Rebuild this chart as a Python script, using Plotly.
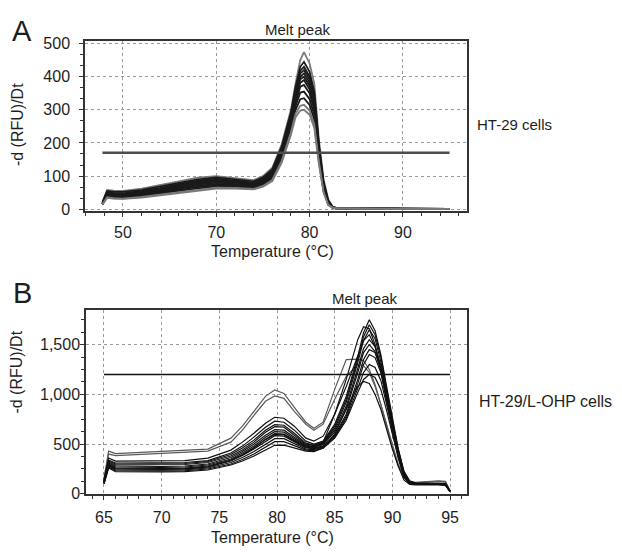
import plotly.graph_objects as go

# ---------------- Panel A data (HT-29 cells) ----------------
temp_a = [57.8, 58.3, 59, 60, 62, 64, 66, 68, 70, 72, 74, 75, 76, 77, 78, 78.5, 79, 79.4,
          80, 80.5, 81, 81.5, 82, 82.5, 83, 84, 86, 88, 90, 92, 95]
a_curve_01 = [22, 58, 56, 55, 62, 72, 84, 95, 100, 94, 88, 100, 125, 195, 300, 380, 450, 474, 440, 380, 210, 90, 30, 6, 3, 2, 2, 1, 1, 1, 1]
a_curve_02 = [20, 55, 52, 52, 58, 68, 80, 90, 96, 90, 84, 96, 120, 188, 292, 370, 430, 445, 415, 355, 195, 82, 26, 6, 3, 2, 2, 1, 1, 1, 1]
a_curve_03 = [18, 52, 49, 48, 55, 64, 76, 86, 92, 87, 80, 92, 115, 180, 285, 360, 418, 430, 400, 345, 190, 78, 24, 5, 3, 2, 1, 1, 1, 1, 1]
a_curve_04 = [18, 50, 47, 46, 52, 61, 73, 83, 89, 85, 78, 89, 112, 176, 280, 355, 410, 420, 392, 338, 185, 75, 22, 5, 3, 2, 1, 1, 1, 1, 1]
a_curve_05 = [16, 48, 45, 44, 50, 58, 70, 80, 86, 82, 76, 86, 108, 170, 272, 345, 400, 410, 382, 330, 180, 72, 20, 5, 3, 2, 1, 1, 1, 1, 1]
a_curve_06 = [16, 46, 43, 42, 48, 56, 67, 77, 83, 80, 74, 84, 105, 166, 265, 338, 392, 400, 372, 320, 175, 68, 18, 4, 2, 2, 1, 1, 1, 1, 1]
a_curve_07 = [15, 44, 41, 40, 45, 53, 64, 74, 80, 77, 72, 82, 102, 162, 260, 330, 382, 390, 362, 312, 170, 65, 17, 4, 2, 2, 1, 1, 1, 1, 1]
a_curve_08 = [15, 42, 39, 38, 43, 50, 61, 70, 76, 74, 69, 79, 98, 158, 255, 322, 370, 375, 350, 300, 165, 62, 16, 4, 2, 2, 1, 1, 1, 1, 1]
a_curve_09 = [14, 40, 37, 36, 41, 48, 58, 67, 72, 71, 66, 76, 95, 154, 248, 312, 352, 355, 332, 285, 158, 58, 15, 4, 2, 2, 1, 1, 1, 1, 1]
a_curve_10 = [14, 38, 35, 34, 39, 46, 55, 63, 68, 67, 63, 73, 92, 150, 240, 300, 332, 335, 315, 270, 150, 55, 14, 4, 2, 2, 1, 1, 1, 1, 1]
a_curve_11 = [14, 36, 33, 32, 37, 44, 52, 60, 65, 64, 61, 70, 88, 145, 232, 288, 312, 315, 298, 256, 142, 52, 13, 4, 2, 2, 1, 1, 1, 1, 1]
a_curve_12 = [14, 34, 32, 31, 35, 42, 50, 57, 62, 62, 60, 68, 85, 140, 225, 278, 298, 300, 285, 245, 135, 50, 12, 4, 2, 2, 1, 1, 1, 1, 1]
a_threshold_t = [57.8, 95]
a_threshold_v = [170, 170]

a_x_tickvals = [60, 70, 80, 90]
a_x_ticktext = ["50", "70", "80", "90"]
a_y_tickvals = [0, 100, 200, 300, 400, 500]

# ---------------- Panel B data (HT-29/L-OHP cells) ----------------
temp_b = [65, 65.4, 66, 68, 70, 72, 74, 76, 77, 78, 79, 79.8, 80.6, 81.5, 82.5, 83.2, 84, 85, 86,
          87, 87.5, 88, 88.5, 89, 89.5, 90, 90.5, 91, 91.5, 92, 94, 94.6, 95]
b_curve_01 = [150, 430, 405, 415, 430, 440, 450, 560, 680, 830, 980, 1045, 1010, 870, 720, 660, 720, 1050, 1350, 1355, 1340, 1250, 1100, 900, 700, 480, 300, 170, 120, 115, 130, 125, 30]
b_curve_02 = [150, 400, 385, 395, 410, 420, 430, 520, 640, 790, 930, 985, 960, 830, 700, 640, 700, 950, 1180, 1300, 1290, 1220, 1080, 900, 690, 470, 290, 160, 115, 110, 125, 120, 30]
b_curve_03 = [140, 360, 330, 330, 335, 335, 360, 440, 520, 610, 710, 770, 760, 680, 560, 530, 580, 800, 1080, 1400, 1540, 1600, 1480, 1280, 1000, 720, 450, 230, 130, 110, 110, 105, 30]
b_curve_04 = [130, 340, 310, 310, 315, 315, 335, 410, 480, 570, 670, 730, 720, 640, 530, 500, 530, 700, 980, 1380, 1620, 1750, 1640, 1400, 1080, 760, 460, 220, 120, 105, 105, 100, 25]
b_curve_05 = [125, 330, 300, 300, 300, 305, 325, 395, 460, 540, 640, 695, 690, 610, 510, 490, 520, 680, 950, 1350, 1580, 1700, 1600, 1380, 1050, 740, 440, 210, 115, 105, 105, 100, 25]
b_curve_06 = [120, 320, 290, 290, 290, 295, 315, 380, 440, 520, 620, 675, 670, 590, 500, 485, 510, 660, 920, 1320, 1540, 1650, 1560, 1330, 1020, 710, 420, 200, 110, 100, 100, 95, 25]
b_curve_07 = [120, 310, 280, 275, 275, 280, 300, 365, 425, 500, 590, 645, 640, 570, 490, 475, 500, 640, 880, 1260, 1460, 1550, 1480, 1280, 990, 690, 410, 190, 105, 100, 100, 95, 25]
b_curve_08 = [115, 300, 270, 265, 265, 270, 290, 350, 410, 480, 570, 625, 620, 555, 480, 470, 495, 620, 850, 1220, 1420, 1500, 1430, 1240, 960, 670, 400, 185, 105, 100, 100, 95, 25]
b_curve_09 = [110, 290, 260, 255, 255, 258, 280, 340, 395, 465, 550, 605, 600, 540, 470, 462, 480, 590, 800, 1150, 1350, 1450, 1420, 1260, 990, 700, 420, 195, 110, 100, 100, 95, 25]
b_curve_10 = [110, 285, 250, 245, 245, 250, 270, 330, 385, 450, 530, 585, 580, 525, 462, 455, 475, 580, 780, 1110, 1300, 1400, 1370, 1220, 960, 680, 410, 190, 105, 100, 100, 95, 25]
b_curve_11 = [105, 280, 240, 238, 238, 242, 260, 315, 365, 425, 500, 555, 555, 505, 450, 445, 470, 570, 760, 1060, 1220, 1300, 1270, 1140, 900, 640, 390, 180, 100, 95, 95, 90, 25]
b_curve_12 = [100, 270, 230, 228, 228, 232, 250, 300, 345, 400, 470, 525, 525, 485, 440, 435, 460, 560, 740, 1020, 1150, 1200, 1170, 1050, 840, 600, 370, 170, 100, 95, 95, 90, 25]
b_curve_13 = [100, 260, 222, 220, 220, 224, 240, 290, 330, 380, 440, 488, 490, 465, 430, 425, 460, 600, 850, 1080, 1130, 1110, 1000, 850, 650, 450, 280, 140, 95, 90, 90, 85, 20]
b_curve_14 = [115, 300, 255, 250, 250, 254, 272, 335, 390, 460, 545, 598, 595, 530, 470, 465, 520, 800, 1150, 1550, 1680, 1660, 1500, 1240, 920, 620, 360, 170, 100, 95, 100, 95, 25]
b_threshold_t = [65, 95]
b_threshold_v = [1200, 1200]

b_x_tickvals = [65, 70, 75, 80, 85, 90, 95]
b_y_tickvals = [0, 500, 1000, 1500]
b_y_ticktext = ["0", "500", "1,000", "1,500"]

a_curves = [a_curve_01, a_curve_02, a_curve_03, a_curve_04, a_curve_05, a_curve_06,
            a_curve_07, a_curve_08, a_curve_09, a_curve_10, a_curve_11, a_curve_12]
b_curves = [b_curve_01, b_curve_02, b_curve_03, b_curve_04, b_curve_05, b_curve_06, b_curve_07,
            b_curve_08, b_curve_09, b_curve_10, b_curve_11, b_curve_12, b_curve_13, b_curve_14]

FONT = "Liberation Sans, Arial, Helvetica, sans-serif"
TXT = "#1e1e1e"

fig = go.Figure()

for i, c in enumerate(a_curves):
    col = "#7a7a7a" if i in (0, 10, 11) else "#1a1a1a"
    fig.add_trace(go.Scatter(x=temp_a, y=c, mode="lines", xaxis="x", yaxis="y",
                             line=dict(color=col, width=1.8), showlegend=False, hoverinfo="skip"))
fig.add_trace(go.Scatter(x=a_threshold_t, y=a_threshold_v, mode="lines", xaxis="x", yaxis="y",
                         line=dict(color="#4d4d4d", width=2.5), showlegend=False, hoverinfo="skip"))

for i, c in enumerate(b_curves):
    col = "#5a5a5a" if i in (0, 1) else "#111111"
    fig.add_trace(go.Scatter(x=temp_b, y=c, mode="lines", xaxis="x2", yaxis="y2",
                             line=dict(color=col, width=1.2), showlegend=False, hoverinfo="skip"))
fig.add_trace(go.Scatter(x=b_threshold_t, y=b_threshold_v, mode="lines", xaxis="x2", yaxis="y2",
                         line=dict(color="#111111", width=1.6), showlegend=False, hoverinfo="skip"))

# page body has an 8px margin; figure is sized so that it ends at the window edge
OFF = 8
W, H = 622 - OFF, 554 - OFF

def dom_x(l, r):
    return [(l - OFF) / W, (r - OFF) / W]

def dom_y(t, b):
    return [1 - (b - OFF) / H, 1 - (t - OFF) / H]

common = dict(showline=True, linecolor="#333333", linewidth=1.5, mirror=True,
              ticks="outside", ticklen=4, tickcolor="#333333", tickwidth=1,
              showgrid=True, gridcolor="#9a9a9a", griddash="dot", gridwidth=1,
              zeroline=False, tickfont=dict(family=FONT, size=16, color=TXT))

fig.update_layout(
    width=W, height=H, margin=dict(l=0, r=0, t=0, b=0),
    paper_bgcolor="white", plot_bgcolor="white",
    xaxis=dict(domain=dom_x(85, 467), anchor="y", range=[55.93, 96.87],
               tickmode="array", tickvals=a_x_tickvals, ticktext=a_x_ticktext,
               minor=dict(dtick=2, tick0=0, ticks="outside", ticklen=3, tickcolor="#333333", showgrid=False),
               ticklabelstandoff=2, **common),
    yaxis=dict(domain=dom_y(36, 210), anchor="x", range=[-5, 507],
               tickmode="array", tickvals=a_y_tickvals,
               minor=dict(dtick=100 / 3, tick0=0, ticks="outside", ticklen=3, tickcolor="#333333", showgrid=False),
               ticklabelstandoff=6, **common),
    xaxis2=dict(domain=dom_x(86, 467), anchor="y2", range=[63.44, 96.47],
                tickmode="array", tickvals=b_x_tickvals,
                minor=dict(dtick=1, tick0=0, ticks="outside", ticklen=3, tickcolor="#333333", showgrid=False),
                ticklabelstandoff=4, **common),
    yaxis2=dict(domain=dom_y(312, 501), anchor="x2", range=[-5, 1846],
                tickmode="array", tickvals=b_y_tickvals, ticktext=b_y_ticktext,
                minor=dict(dtick=125, tick0=0, ticks="outside", ticklen=3, tickcolor="#333333", showgrid=False),
                ticklabelstandoff=-3, **common),
)

def ann(text, x, y, size, rot=0, xanchor="center"):
    fig.add_annotation(text=text, x=(x - OFF) / W, y=1 - (y - OFF) / H, xref="paper", yref="paper",
                       showarrow=False, font=dict(family=FONT, size=size, color=TXT),
                       textangle=rot, xanchor=xanchor, yanchor="middle")

ann("A", 22, 25, 29)
ann("B", 22, 294, 29)
ann("Melt peak", 298, 24, 15)
ann("Melt peak", 365, 300, 15)
ann("HT-29 cells", 475, 121, 15, xanchor="left")
ann("HT-29/L-OHP cells", 477, 406, 16, xanchor="left")
ann("-d (RFU)/Dt", 17, 122, 16, rot=-90)
ann("-d (RFU)/Dt", 17, 376, 16, rot=-90)
ann("Temperature (°C)", 272, 252, 16)
ann("Temperature (°C)", 272, 545, 16)

fig.write_html("out.html")
